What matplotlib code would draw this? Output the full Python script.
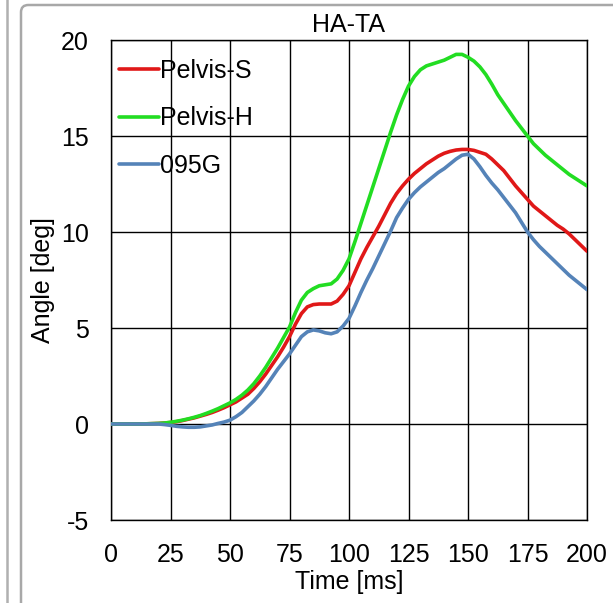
import matplotlib
matplotlib.use("Agg")
import matplotlib.pyplot as plt
from matplotlib.patches import FancyBboxPatch
from matplotlib.lines import Line2D

plt.rcParams['font.family'] = ['Liberation Sans', 'DejaVu Sans']
plt.rcParams['axes.unicode_minus'] = False

# sample times, every 2.5 ms
time_ms = [i * 2.5 for i in range(81)]

pelvis_s = [0, 0, 0, 0, 0, 0, 0.01, 0.02, 0.03, 0.05,
            0.08, 0.12, 0.18, 0.25, 0.32, 0.41, 0.5, 0.6, 0.72, 0.85,
            1.0, 1.15, 1.35, 1.55, 1.85, 2.2, 2.6, 3.05, 3.5, 4.0,
            4.55, 5.2, 5.75, 6.1, 6.22, 6.25, 6.25, 6.25, 6.4, 6.75,
            7.2, 7.9, 8.6, 9.2, 9.75, 10.3, 10.9, 11.5, 12.0, 12.4,
            12.75, 13.05, 13.3, 13.55, 13.75, 13.95, 14.1, 14.2, 14.27, 14.3,
            14.3, 14.25, 14.15, 14.05, 13.8, 13.5, 13.2, 12.8, 12.4, 12.05,
            11.7, 11.35, 11.1, 10.85, 10.6, 10.35, 10.15, 9.9, 9.6, 9.3,
            9.0]

pelvis_h = [0, 0, 0, 0, 0, 0, 0.01, 0.02, 0.03, 0.05,
            0.09, 0.14, 0.2, 0.27, 0.35, 0.44, 0.55, 0.67, 0.8, 0.95,
            1.1, 1.28, 1.5, 1.77, 2.1, 2.5, 2.95, 3.45, 3.95, 4.5,
            5.05, 5.8, 6.45, 6.85, 7.05, 7.2, 7.25, 7.3, 7.55, 8.0,
            8.6, 9.5, 10.45, 11.4, 12.35, 13.3, 14.25, 15.2, 16.1, 16.9,
            17.6, 18.1, 18.45, 18.65, 18.75, 18.85, 18.95, 19.1, 19.25, 19.25,
            19.1, 18.9, 18.6, 18.2, 17.7, 17.15, 16.7, 16.25, 15.8, 15.4,
            15.0, 14.6, 14.3, 14.0, 13.75, 13.5, 13.25, 13.0, 12.8, 12.6,
            12.4]

g095 = [0, 0, 0, 0, 0, 0, 0, 0, 0, -0.03,
        -0.07, -0.12, -0.15, -0.17, -0.17, -0.15, -0.1, -0.05, 0.03, 0.1,
        0.2, 0.38, 0.6, 0.9, 1.2, 1.55, 1.95, 2.4, 2.85, 3.25,
        3.65, 4.1, 4.55, 4.8, 4.9, 4.85, 4.75, 4.7, 4.8, 5.1,
        5.5, 6.15, 6.85, 7.5, 8.1, 8.75, 9.4, 10.05, 10.75, 11.25,
        11.7, 12.05, 12.35, 12.6, 12.85, 13.1, 13.3, 13.55, 13.8, 14.0,
        14.05, 13.8, 13.4, 12.95, 12.55, 12.2, 11.8, 11.4, 11.0, 10.5,
        10.0, 9.6, 9.25, 8.95, 8.65, 8.35, 8.05, 7.75, 7.5, 7.25,
        7.0]

series_names = ["Pelvis-S", "Pelvis-H", "095G"]
series_colors = ["#e01818", "#22dd22", "#5583b8"]
x_ticks = [0, 25, 50, 75, 100, 125, 150, 175, 200]
y_ticks = [-5, 0, 5, 10, 15, 20]

fig = plt.figure(figsize=(6.13, 6.03), dpi=100)

# outer panel frame and the edge of the neighbouring panel
frame = FancyBboxPatch((21 / 613, -0.05), 1.0, 1.05 - 5 / 603,
                       boxstyle="round,pad=0,rounding_size=0.012",
                       transform=fig.transFigure, fill=False,
                       edgecolor="#a8a8a8", linewidth=1.8, zorder=0)
fig.patches.append(frame)
fig.add_artist(Line2D([7 / 613, 7 / 613], [0, 1], transform=fig.transFigure,
                      color="#b0b0b0", linewidth=1.8))

ax = fig.add_axes([111 / 613, 1 - 520 / 603, 476 / 613, 480 / 603])

for vals, name, col in zip([pelvis_s, pelvis_h, g095], series_names, series_colors):
    ax.plot(time_ms, vals, color=col, linewidth=2.6, label=name,
            solid_capstyle="round", solid_joinstyle="round", zorder=3)

ax.set_xlim(0, 200)
ax.set_ylim(-5, 20)
ax.set_xticks(x_ticks)
ax.set_yticks(y_ticks)
ax.grid(True, color="black", linewidth=1.0, zorder=1)
for sp in ax.spines.values():
    sp.set_color("black")
    sp.set_linewidth(1.0)
ax.tick_params(length=0, labelsize=18)
ax.tick_params(axis='y', pad=16)
ax.tick_params(axis='x', pad=16.5)

ax.set_title("HA-TA", fontsize=18, pad=6)
ax.set_xlabel("Time [ms]", fontsize=18, labelpad=2)
ax.set_ylabel("Angle [deg]", fontsize=18, labelpad=4)

leg = ax.legend(loc="upper left", frameon=False, fontsize=18,
                handlelength=1.6, handletextpad=0.05, labelspacing=0.95,
                borderpad=0.3, borderaxespad=0.0, bbox_to_anchor=(0.0, 0.977))

fig.savefig("out.png", dpi=100)
